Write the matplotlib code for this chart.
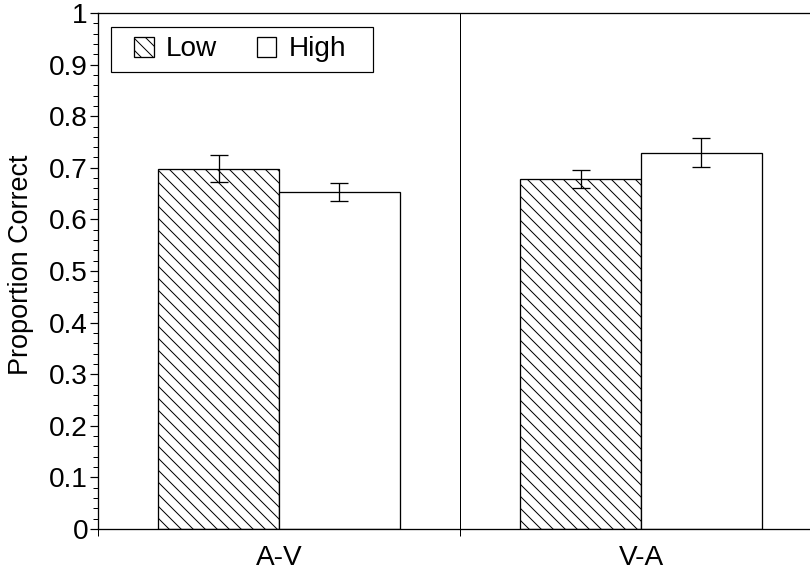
import matplotlib.pyplot as plt
import numpy as np
from matplotlib.patches import Rectangle
from matplotlib.ticker import MultipleLocator, FixedLocator, NullFormatter, FormatStrFormatter

plt.rcParams['font.family'] = ['Liberation Sans', 'DejaVu Sans']
plt.rcParams['hatch.linewidth'] = 1.0
plt.rcParams['hatch.color'] = 'black'

groups = ['A-V', 'V-A']
low_vals = [0.698, 0.678]
high_vals = [0.653, 0.729]
low_err = [0.026, 0.018]
high_err = [0.018, 0.028]

# dpi 72 so points == pixels
fig = plt.figure(figsize=(810 / 72, 577 / 72), dpi=72)
AXW, AXH = 724, 516
ax = fig.add_axes([98 / 810, 48 / 577, AXW / 810, AXH / 577])

x = np.arange(len(groups)) + 0.5
w = 1 / 3

ax.bar(x - w / 2, low_vals, w, color='white', edgecolor='black', linewidth=1.3,
       hatch='\\\\', label='Low')
ax.bar(x + w / 2, high_vals, w, color='white', edgecolor='black', linewidth=1.3,
       label='High')
ax.errorbar(x - w / 2, low_vals, yerr=low_err, fmt='none', ecolor='black',
            elinewidth=1.3, capsize=9, capthick=1.3)
ax.errorbar(x + w / 2, high_vals, yerr=high_err, fmt='none', ecolor='black',
            elinewidth=1.3, capsize=9, capthick=1.3)

ax.axvline(1, color='black', linewidth=1)

ax.set_xlim(0, 2)
ax.set_ylim(0, 1)

ax.yaxis.set_major_locator(MultipleLocator(0.1))
ax.yaxis.set_minor_locator(MultipleLocator(0.02))
ax.yaxis.set_major_formatter(FormatStrFormatter('%g'))
ax.tick_params(axis='y', which='major', length=8, width=1.2, labelsize=28, pad=2)
ax.tick_params(axis='y', which='minor', length=5, width=1)

ax.xaxis.set_major_locator(FixedLocator([0, 1, 2]))
ax.xaxis.set_major_formatter(NullFormatter())
ax.xaxis.set_minor_locator(FixedLocator(x))
ax.set_xticklabels(groups, minor=True)
ax.tick_params(axis='x', which='major', length=7, width=1)
ax.tick_params(axis='x', which='minor', length=0, labelsize=28, pad=16)

for s in ax.spines.values():
    s.set_linewidth(1.3)

ax.set_ylabel('Proportion Correct', fontsize=27)
ax.yaxis.set_label_coords(-64 / AXW, 1 - 252 / AXH)

# legend frame drawn separately so the padding can match
ax.add_patch(Rectangle((13 / AXW, 1 - 59 / AXH), 262 / AXW, 45 / AXH,
                       transform=ax.transAxes, facecolor='white', edgecolor='black',
                       linewidth=1.2, zorder=5))
leg = ax.legend(loc='center left', ncol=2, fontsize=28, frameon=False,
                handlelength=0.7, handleheight=0.7, handletextpad=0.45,
                columnspacing=1.4, borderpad=0, borderaxespad=0,
                bbox_to_anchor=(36 / AXW, 1 - 36.5 / AXH))
leg.set_zorder(6)

fig.savefig('out.png', dpi=72)
